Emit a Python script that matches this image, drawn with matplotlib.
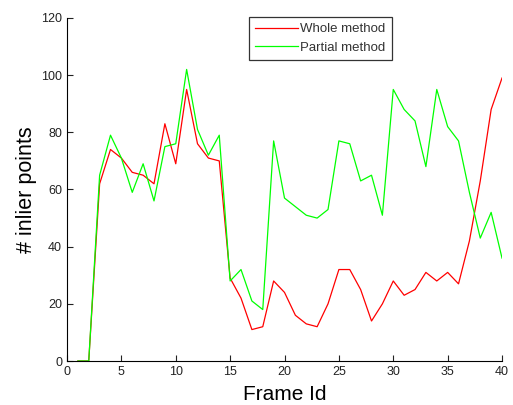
import matplotlib.pyplot as plt

frames = list(range(1, 41))
whole = [0, 0, 62, 74, 71, 66, 65, 62, 83, 69, 95, 76, 71, 70, 29, 22, 11, 12, 28, 24,
         16, 13, 12, 20, 32, 32, 25, 14, 20, 28, 23, 25, 31, 28, 31, 27, 42, 63, 88, 99]
partial = [0, 0, 65, 79, 71, 59, 69, 56, 75, 76, 102, 81, 72, 79, 28, 32, 21, 18, 77, 57,
           54, 51, 50, 53, 77, 76, 63, 65, 51, 95, 88, 84, 68, 95, 82, 77, 59, 43, 52, 36]

plt.rcParams['font.family'] = ['Liberation Sans', 'DejaVu Sans']

fig = plt.figure(figsize=(5.13, 4.05), dpi=100)
ax = fig.add_axes([0.1306, 0.1086, 0.848, 0.847])

ax.plot(frames, whole, color='#ff0000', linewidth=0.9, label='Whole method')
ax.plot(frames, partial, color='#00ff00', linewidth=0.9, label='Partial method')

ax.set_xlim(0, 40)
ax.set_ylim(0, 120)
ax.set_xticks(range(0, 41, 5))
ax.set_yticks(range(0, 121, 20))
ax.tick_params(direction='in', labelsize=9, length=4, width=0.8, colors='#222222')
ax.spines['top'].set_visible(False)
ax.spines['right'].set_visible(False)
ax.set_xlabel('Frame Id', fontsize=15)
ax.set_ylabel('# inlier points', fontsize=15.5)
ax.xaxis.set_label_coords(0.501, -0.07)
ax.yaxis.set_label_coords(-0.069, 0.5)

leg = ax.legend(loc='upper left', bbox_to_anchor=(249 / 513, 1 - 17 / 405),
                bbox_transform=fig.transFigure, fontsize=9.5,
                fancybox=False, edgecolor='#333333', framealpha=1, borderaxespad=0,
                handlelength=3.3, handletextpad=0.15, borderpad=0.45, labelspacing=0.5)
leg.get_frame().set_linewidth(0.9)
for t in leg.get_texts():
    t.set_color('#333333')

fig.savefig('out.png', dpi=100)
